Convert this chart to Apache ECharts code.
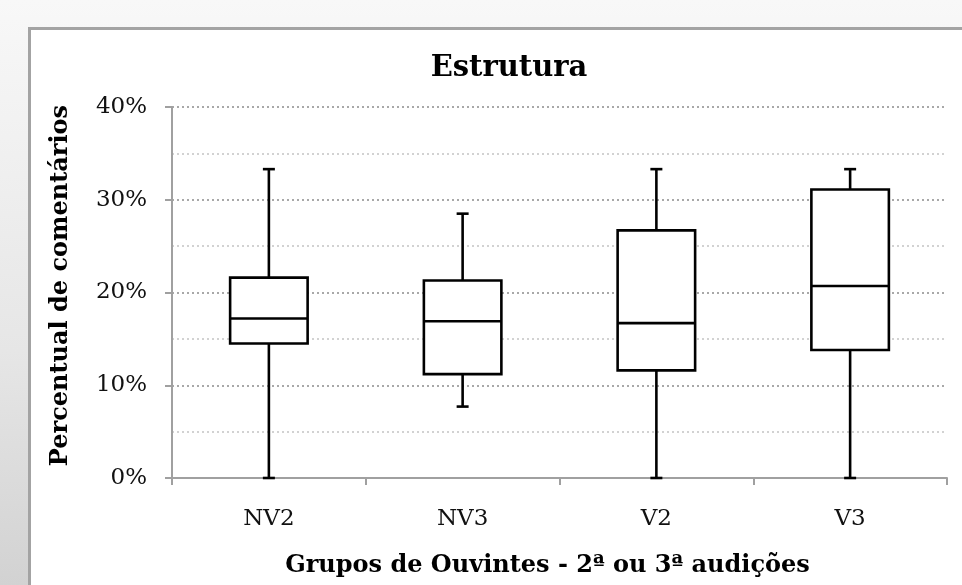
<!DOCTYPE html>
<html>
<head>
<meta charset="utf-8">
<script src="https://cdn.jsdelivr.net/npm/echarts@6/dist/echarts.min.js"></script>
<style>
  html, body { margin:0; padding:0; width:962px; height:585px; overflow:hidden; }
  body { background: linear-gradient(to bottom, #f8f8f8 0%, #e6e6e6 60%, #d2d2d2 100%); position:relative; }
  #panel { position:absolute; left:28px; top:27px; width:960px; height:600px; background:#fff; border-left:3px solid #a3a3a3; border-top:3px solid #a3a3a3; box-sizing:border-box; }
  #chart { position:absolute; left:0; top:0; width:962px; height:585px; }
</style>
</head>
<body>
<div id="panel"></div>
<div id="chart"></div>
<script>
const categories = ['NV2', 'NV3', 'V2', 'V3'];
// [min, Q1, median, Q3, max] in percent
const mins    = [0,    7.7,  0,    0];
const q1s     = [14.5, 11.2, 11.6, 13.8];
const medians = [17.2, 16.9, 16.7, 20.7];
const q3s     = [21.6, 21.3, 26.7, 31.1];
const maxs    = [33.3, 28.5, 33.3, 33.3];
const yTicks  = [0, 10, 20, 30, 40];

const data = categories.map((c, i) => [i, mins[i], q1s[i], medians[i], q3s[i], maxs[i]]);
const FONT = 'DejaVu Serif';

const chart = echarts.init(document.getElementById('chart'), null, {renderer: 'canvas'});
chart.setOption({
  backgroundColor: 'transparent',
  animation: false,
  title: {
    text: 'Estrutura', left: 504, top: 49, textAlign: 'center',
    textStyle: { fontFamily: FONT, fontWeight: 'bold', fontSize: 29, color: '#000' }
  },
  grid: { left: 172, right: 15, top: 107, bottom: 107 },
  xAxis: {
    type: 'category', data: categories,
    name: 'Grupos de Ouvintes - 2ª ou 3ª audições',
    nameLocation: 'middle', nameGap: 76,
    nameTextStyle: { fontFamily: FONT, fontWeight: 'bold', fontSize: 24, color: '#000', padding: [0, 24, 0, 0] },
    axisLine: { lineStyle: { color: '#a0a0a0', width: 2 } },
    axisTick: { show: true, length: 7, lineStyle: { color: '#a0a0a0', width: 2 } },
    axisLabel: { fontFamily: FONT, fontSize: 23, color: '#111', margin: 30 },
    splitLine: { show: false }
  },
  yAxis: {
    type: 'value', min: 0, max: 40, interval: 10,
    name: 'Percentual de comentários',
    nameLocation: 'middle', nameGap: 99, nameRotate: 90,
    nameTextStyle: { fontFamily: FONT, fontWeight: 'bold', fontSize: 24, color: '#000', padding: [0, 0, 0, 14] },
    axisLine: { show: true, lineStyle: { color: '#a0a0a0', width: 2 } },
    axisTick: { show: true, length: 7, lineStyle: { color: '#a0a0a0', width: 2 } },
    axisLabel: {
      fontFamily: FONT, fontSize: 23, color: '#111', margin: 25,
      formatter: v => yTicks.includes(v) ? v + '%' : ''
    },
    splitLine: { show: true, lineStyle: { color: '#a8a8a8', width: 2, type: [2, 3] } },
    minorTick: { show: false, splitNumber: 2 },
    minorSplitLine: { show: true, lineStyle: { color: '#c4c4c4', width: 1.5, type: [2, 3] } }
  },
  series: [{
    type: 'custom',
    data: data,
    encode: { x: 0, y: [1, 2, 3, 4, 5] },
    renderItem: function (params, api) {
      const idx = api.value(0);
      const vals = [api.value(1), api.value(2), api.value(3), api.value(4), api.value(5)];
      const band = api.size([1, 0])[0];
      const half = band * 0.2;
      const cap = 6;
      const p = vals.map(v => api.coord([idx, v]));
      const x = p[0][0];
      const st = { stroke: '#000', lineWidth: 2.6, fill: null };
      return {
        type: 'group',
        children: [
          { type: 'line', shape: { x1: x, y1: p[4][1], x2: x, y2: p[3][1] }, style: st },
          { type: 'line', shape: { x1: x - cap, y1: p[4][1], x2: x + cap, y2: p[4][1] }, style: st },
          { type: 'line', shape: { x1: x, y1: p[1][1], x2: x, y2: p[0][1] }, style: st },
          { type: 'line', shape: { x1: x - cap, y1: p[0][1], x2: x + cap, y2: p[0][1] }, style: st },
          { type: 'rect', shape: { x: x - half, y: p[3][1], width: half * 2, height: p[1][1] - p[3][1] },
            style: { stroke: '#000', lineWidth: 2.6, fill: '#fff' } },
          { type: 'line', shape: { x1: x - half, y1: p[2][1], x2: x + half, y2: p[2][1] }, style: st }
        ]
      };
    }
  }]
});
</script>
</body>
</html>
